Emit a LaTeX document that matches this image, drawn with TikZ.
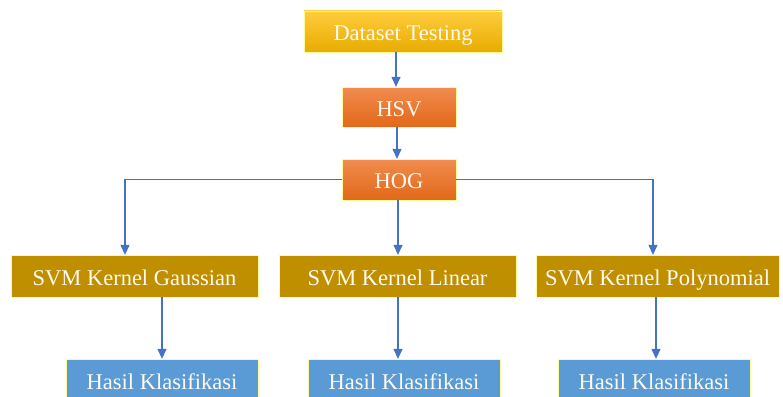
\documentclass[tikz,border=0pt]{standalone}
\usepackage{fontspec}
\setmainfont{Liberation Serif}
\usetikzlibrary{arrows.meta}
\definecolor{arrowblue}{RGB}{68,114,196}
\definecolor{goldbox}{RGB}{191,143,0}
\definecolor{bluebox}{RGB}{91,155,213}
\definecolor{txtcol}{RGB}{255,250,240}
\tikzset{
  box/.style={inner sep=0pt, text height=18pt, text depth=0pt, align=center,
    text=txtcol, font=\fontsize{22.5}{26}\selectfont, draw=white!60!yellow, line width=0.3pt},
  yellowbox/.style={box, top color={rgb,255:red,255;green,204;blue,60}, bottom color={rgb,255:red,232;green,172;blue,0}},
  orangebox/.style={box, top color={rgb,255:red,241;green,140;blue,80}, bottom color={rgb,255:red,226;green,104;blue,24}},
  svmbox/.style={box, fill=goldbox},
  resbox/.style={box, fill=bluebox},
  arr/.style={draw=arrowblue, line width=1.2pt, -{Triangle[length=10pt,width=9pt]}}
}
\begin{document}
\begin{tikzpicture}[x=1pt,y=-1pt]
\useasboundingbox (0,0) rectangle (783,396);
\begin{scope}
\clip (0,0) rectangle (783,396);
\node[yellowbox, minimum width=198pt, minimum height=41pt] (dt) at (403,31.5) {Dataset Testing};
\node[orangebox, minimum width=114pt, minimum height=40pt] (hsv) at (399,107) {HSV};
\node[orangebox, minimum width=114pt, minimum height=41pt] (hog) at (399,179.5) {HOG};
\node[svmbox, minimum width=247pt, minimum height=42pt] (g) at (134.5,276) {SVM Kernel Gaussian};
\node[svmbox, minimum width=237pt, minimum height=42pt] (l) at (397.5,276) {SVM Kernel Linear};
\node[svmbox, minimum width=243pt, minimum height=42pt] (p) at (657.5,276) {SVM Kernel Polynomial};
\node[resbox, minimum width=192pt, minimum height=42pt] (h1) at (162,380) {Hasil Klasifikasi};
\node[resbox, minimum width=192pt, minimum height=42pt] (h2) at (404,380) {Hasil Klasifikasi};
\node[resbox, minimum width=192pt, minimum height=42pt] (h3) at (654,380) {Hasil Klasifikasi};
\end{scope}
\coordinate (gl) at ([xshift=-9.5pt]g.north);
\coordinate (pr) at ([xshift=-4.5pt]p.north);
\draw[arr] ([xshift=-3pt]hsv.north |- dt.south) -- ([xshift=-3pt]hsv.north);
\draw[arr] ([xshift=-2pt]hog.north |- hsv.south) -- ([xshift=-2pt]hog.north);
\draw[arr] (hog.west) -| (gl);
\draw[arr] (hog.east) -| (pr);
\draw[arr] ([xshift=-1pt]hog.south) -- ([xshift=-1pt]l.north -| hog.south);
\draw[arr] (g.south -| h1.north) -- (h1.north);
\draw[arr] ([xshift=-6pt]h2.north |- l.south) -- ([xshift=-6pt]h2.north);
\draw[arr] ([xshift=2pt]h3.north |- p.south) -- ([xshift=2pt]h3.north);
\end{tikzpicture}
\end{document}
